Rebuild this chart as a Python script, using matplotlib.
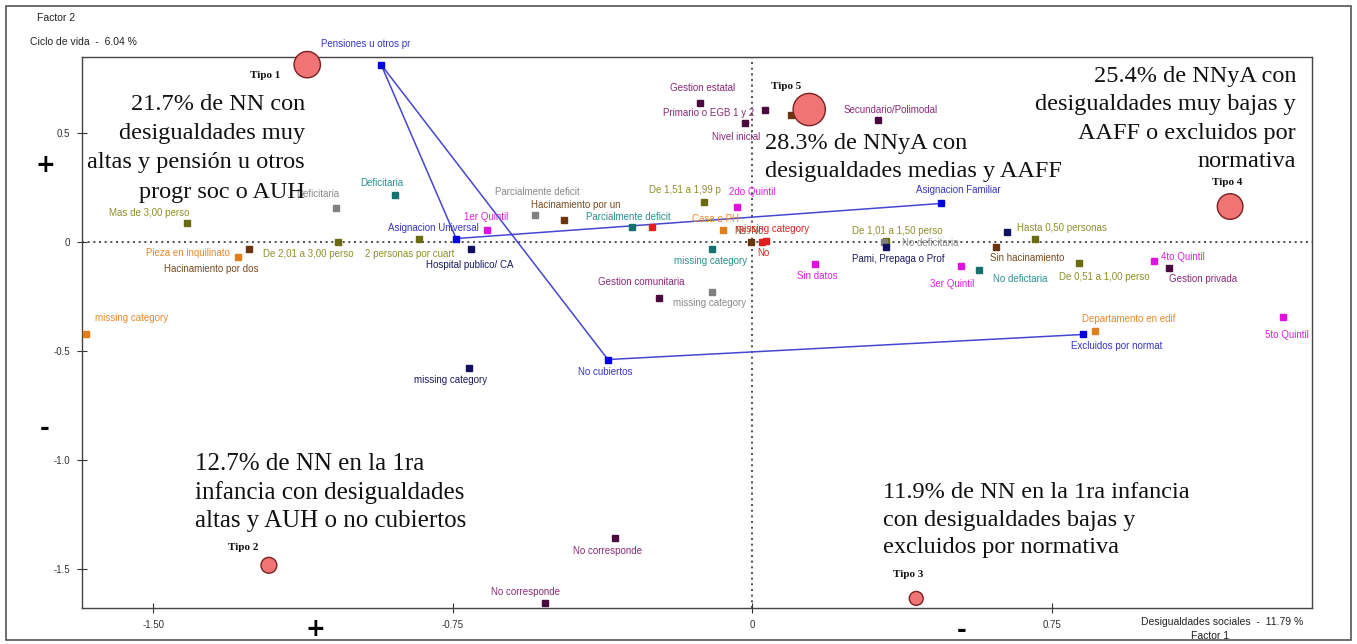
import matplotlib.pyplot as plt
from matplotlib.patches import Rectangle

# categorias del analisis de correspondencias (Factor 1 / Factor 2)
cat_names = [
    'Pensiones u otros pr', 'Asignacion Universal', 'No cubiertos', 'Excluidos por normat', 'Asignacion Familiar',
    'Mas de 3,00 perso', 'De 2,01 a 3,00 perso', '2 personas por cuart', 'De 1,51 a 1,99 p',
    'De 1,01 a 1,50 perso', 'Hasta 0,50 personas', 'De 0,51 a 1,00 perso',
    'Pieza en inquilinato', 'missing category', 'Casa o PH', 'Departamento en edif',
    'Hacinamiento por dos', 'Hacinamiento por un', 'Sin hacinamiento', 'Ns./Nc.', '',
    'Parcialmente deficit', 'Deficitaria', 'No deficitaria', 'missing category',
    'Deficitaria', 'Parcialmente deficit', 'missing category', 'No defictaria',
    'Hospital publico/ CA', 'missing category', 'Pami, Prepaga o Prof', '',
    'No', 'missing category', '',
    '1er Quintil', '2do Quintil', 'Sin datos', '3er Quintil', '4to Quintil', '5to Quintil',
    'Gestion estatal', 'Primario o EGB 1 y 2', 'Nivel inicial', 'Secundario/Polimodal',
    'Gestion comunitaria', 'Gestion privada', 'No corresponde', 'No corresponde',
]
cat_x = [
    -0.929, -0.741, -0.361, 0.829, 0.473,
    -1.415, -1.037, -0.834, -0.120,
    0.336, 0.709, 0.819,
    -1.287, -1.668, -0.073, 0.859,
    -1.260, -0.471, 0.611, -0.003, 0.098,
    -0.543, -1.042, 0.331, -0.100,
    -0.894, -0.301, -0.100, 0.568,
    -0.704, -0.709, 0.336, 0.639,
    0.025, 0.035, -0.250,
    -0.664, -0.038, 0.158, 0.523, 1.007, 1.330,
    -0.130, 0.033, -0.018, 0.316,
    -0.233, 1.044, -0.343, -0.518,
]
cat_y = [
    0.814, 0.016, -0.539, -0.424, 0.177,
    0.089, -0.002, 0.016, 0.186,
    0.007, 0.016, -0.094,
    -0.067, -0.424, 0.053, -0.406,
    -0.034, 0.103, -0.021, 0.002, 0.585,
    0.126, 0.154, -0.002, -0.227,
    0.218, 0.067, -0.034, -0.126,
    -0.034, -0.576, -0.021, 0.048,
    -0.002, 0.007, 0.071,
    0.057, 0.163, -0.099, -0.108, -0.085, -0.346,
    0.640, 0.608, 0.548, 0.562,
    -0.255, -0.117, -1.360, -1.654,
]
cat_var = (['cobertura'] * 5 + ['personas'] * 7 + ['vivienda'] * 4 + ['hacinamiento'] * 5
           + ['saneamiento'] * 4 + ['agua'] * 4 + ['salud'] * 4 + ['otro'] * 3
           + ['quintil'] * 6 + ['educacion'] * 8)

# trayectoria de la cobertura (indices en cat_names)
path_order = [4, 1, 0, 2, 3]

tipo_names = ['Tipo 1', 'Tipo 5', 'Tipo 4', 'Tipo 2', 'Tipo 3']
tipo_x = [-1.114, 0.143, 1.197, -1.210, 0.411]
tipo_y = [0.814, 0.608, 0.163, -1.483, -1.635]

notes = [
    '21.7% de NN con\ndesigualdades muy\naltas y pensión u otros\nprogr soc o AUH',
    '28.3% de NNyA con\ndesigualdades medias y AAFF',
    '25.4% de NNyA con\ndesigualdades muy bajas y\nAAFF o excluidos por\nnormativa',
    '12.7% de NN en la 1ra\ninfancia con desigualdades\naltas y AUH o no cubiertos',
    '11.9% de NN en la 1ra infancia\ncon desigualdades bajas y\nexcluidos por normativa',
]

# estilos
VAR_COLORS = {
    'cobertura': ('#0000e0', '#3535c8'),
    'personas': ('#6b6b10', '#8f8f2a'),
    'vivienda': ('#e07f1a', '#e8892a'),
    'hacinamiento': ('#6b3510', '#7a4a20'),
    'saneamiento': ('#808080', '#8a8a8a'),
    'agua': ('#157070', '#2a9090'),
    'salud': ('#101060', '#1a1a60'),
    'otro': ('#e02020', '#e02020'),
    'quintil': ('#e010e0', '#e020e0'),
    'educacion': ('#4a0a40', '#8a2a7a'),
}
LABEL_OFFSETS = [
    (-15, 21), (-23, 11), (-3, -12), (34, -12), (17, 13),
    (-38, 10), (-30, -12), (-9, -15), (-19, 12),
    (11, 10), (27, 11), (25, -14),
    (-50, 4), (46, 16), (-7, 11), (34, 12),
    (-38, -20), (12, 15), (31, -11), (-1, 11), (0, 0),
    (2, 23), (-18, 14), (46, -1), (-3, -11),
    (-13, 12), (-4, 10), (-2, -12), (41, -9),
    (-1, -16), (-18, -12), (12, -12), (0, 0),
    (1, -11), (6, 12), (0, 0),
    (-1, 13), (15, 15), (2, -12), (-9, -18), (29, 4), (4, -18),
    (2, 15), (-57, -3), (-9, -14), (12, 10),
    (-18, 16), (34, -11), (-8, -13), (-20, 11),
]
TIPO_SIZES = [360, 540, 340, 130, 100]
TIPO_OFFSETS = [(-42, -11), (-23, 23), (-3, 24), (-26, 18), (-8, 24)]
# (x, y en ejes, alineacion, tamano, interlineado)
NOTE_POS = [(0.1813, 0.8348, 'right', 17.5, 1.52), (0.5553, 0.8176, 'left', 17.5, 1.45),
            (0.987, 0.8875, 'right', 17.5, 1.47),
            (0.0919, 0.2096, 'left', 18.0, 1.33), (0.6512, 0.1597, 'left', 17.5, 1.38)]

W, H = 1357, 644
fig = plt.figure(figsize=(W / 100, H / 100), dpi=100)
ax = fig.add_axes([82 / W, 36 / H, 1230 / W, 551 / H])
ax.set_xlim(-1.678, 1.402)
ax.set_ylim(-1.679, 0.849)

ax.axhline(0, color='#333333', linestyle=(0, (1.2, 2.2)), linewidth=1.2, zorder=1)
ax.axvline(0, color='#333333', linestyle=(0, (1.2, 2.2)), linewidth=1.2, zorder=1)

# trayectoria azul
ax.plot([cat_x[i] for i in path_order], [cat_y[i] for i in path_order],
        color='#4646d2', linewidth=1.1, zorder=2)

for name, x, y, var, off in zip(cat_names, cat_x, cat_y, cat_var, LABEL_OFFSETS):
    mcol, tcol = VAR_COLORS[var]
    ax.plot(x, y, marker='s', markersize=4.2, color=mcol, linestyle='none', zorder=3, clip_on=False)
    if name:
        box = None
        if name == 'Ns./Nc.':
            box = dict(facecolor='white', edgecolor='none', pad=0.5)
        ax.annotate(name, (x, y), xytext=off, textcoords='offset pixels', ha='center', va='center',
                    fontsize=7, color=tcol, family='Liberation Sans', zorder=4, bbox=box)

ax.scatter(tipo_x, tipo_y, s=TIPO_SIZES, color='#f07474', edgecolor='#7a2020', linewidth=1.0,
           zorder=5, clip_on=False)
for name, x, y, off in zip(tipo_names, tipo_x, tipo_y, TIPO_OFFSETS):
    ax.annotate(name, (x, y), xytext=off, textcoords='offset pixels', ha='center', va='center',
                fontsize=8, fontweight='bold', color='#111111', family='Liberation Serif', zorder=6)

for txt, (nx, ny, ha, fs, ls) in zip(notes, NOTE_POS):
    ax.text(nx, ny, txt, transform=ax.transAxes, ha=ha, va='center', fontsize=fs,
            family='Liberation Serif', color='#111111', linespacing=ls, zorder=7)

ax.set_xticks([-1.5, -0.75, 0, 0.75])
ax.set_xticklabels(['-1.50', '-0.75', '0', '0.75'], family='Liberation Sans')
ax.set_yticks([0.5, 0, -0.5, -1.0, -1.5])
ax.set_yticklabels(['0.5', '0', '-0.5', '-1.0', '-1.5'], family='Liberation Sans')
ax.tick_params(direction='inout', length=7, width=0.8, labelsize=7, colors='#333333', pad=5)
for sp in ax.spines.values():
    sp.set_color('#444444')
    sp.set_linewidth(1.0)

# textos fuera del grafico
fig.text(37 / W, 1 - 18 / H, 'Factor 2', fontsize=7.5, family='Liberation Sans', va='center', color='#222222')
fig.text(30 / W, 1 - 42 / H, 'Ciclo de vida  -  6.04 %', fontsize=7.5, family='Liberation Sans',
         va='center', color='#222222')
fig.text(1222 / W, 1 - 622 / H, 'Desigualdades sociales  -  11.79 %', fontsize=7.5,
         family='Liberation Sans', ha='center', va='center', color='#222222')
fig.text(1210 / W, 1 - 636 / H, 'Factor 1', fontsize=7.5, family='Liberation Sans',
         ha='center', va='center', color='#222222')
fig.text(45 / W, 1 - 165 / H, '+', fontsize=17, fontweight='bold', ha='center', va='center')
fig.text(45 / W, 1 - 428 / H, '-', fontsize=17, fontweight='bold', ha='center', va='center')
fig.text(315 / W, 1 - 629 / H, '+', fontsize=17, fontweight='bold', ha='center', va='center')
fig.text(962 / W, 1 - 630 / H, '-', fontsize=17, fontweight='bold', ha='center', va='center')

fig.patches.append(Rectangle((6 / W, 4 / H), 1345 / W, 634 / H, transform=fig.transFigure,
                             fill=False, edgecolor='#555555', linewidth=1.2))

fig.savefig('out.png', dpi=100, facecolor='white')
